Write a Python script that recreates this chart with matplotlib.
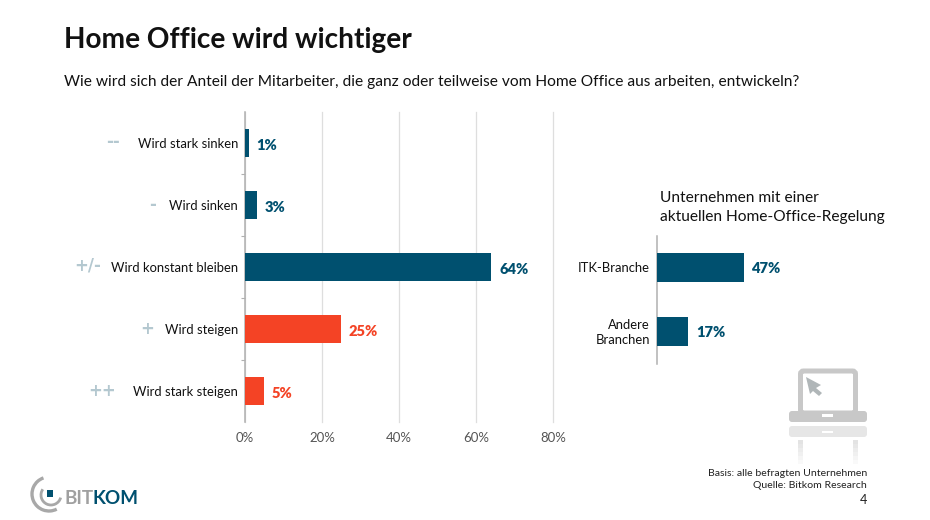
#!/usr/bin/env python3
import matplotlib
matplotlib.use('Agg')
import matplotlib.pyplot as plt
from matplotlib.patches import Arc, FancyBboxPatch, Rectangle, Polygon

plt.rcParams['font.family'] = ['Lato', 'DejaVu Sans']

W, H = 930, 520
BLUE = '#00506f'
RED = '#f44325'
GREY = '#c8c8c8'

answers = ['Wird stark sinken', 'Wird sinken', 'Wird konstant bleiben', 'Wird steigen', 'Wird stark steigen']
symbols = ['--', '-', '+/-', '+', '++']
shares = [1, 3, 64, 25, 5]
share_colors = [BLUE, BLUE, BLUE, RED, RED]
x_ticks = [0, 20, 40, 60, 80]

branches = ['ITK-Branche', 'Andere\nBranchen']
branch_shares = [47, 17]


def px_axes(left, top, right, bottom):
    return fig.add_axes([left / W, 1 - bottom / H, (right - left) / W, (bottom - top) / H])


fig = plt.figure(figsize=(W / 100, H / 100), dpi=100)

# overlay in pixel coords for header, footer, logo and icon
bg = fig.add_axes([0, 0, 1, 1])
bg.set_xlim(0, W)
bg.set_ylim(H, 0)
bg.axis('off')

bg.text(64, 40, 'Home Office wird wichtiger', fontsize=20.2, fontweight='bold', va='center', color='#111111')
bg.text(64, 82, 'Wie wird sich der Anteil der Mitarbeiter, die ganz oder teilweise vom Home Office aus arbeiten, entwickeln?',
        fontsize=11.13, va='center', color='#111111')
bg.text(660, 198, 'Unternehmen mit einer', fontsize=11.15, va='center', color='#111111')
bg.text(660, 217, 'aktuellen Home-Office-Regelung', fontsize=11.15, va='center', color='#111111')

bg.text(867, 474, 'Basis: alle befragten Unternehmen', fontsize=7.55, ha='right', va='center', color='#222222')
bg.text(867, 486, 'Quelle: Bitkom Research', fontsize=7.55, ha='right', va='center', color='#222222')
bg.text(867, 500, '4', fontsize=9, ha='right', va='center', color='#222222')

# laptop icon
bg.add_patch(FancyBboxPatch((800.5, 371), 55, 42, boxstyle='round,pad=0,rounding_size=3', fc='none', ec=GREY, lw=3.6))
bg.add_patch(Polygon([(806, 377), (821, 385), (816, 388), (822, 393), (819, 396), (813, 391), (810, 394)], fc='#b0b6b8', ec='none'))
bg.add_patch(FancyBboxPatch((789, 411), 78, 11, boxstyle='round,pad=0,rounding_size=3', fc=GREY, ec='none'))
bg.add_patch(Rectangle((822, 414), 11, 2.5, fc='white', ec='none'))
bg.add_patch(FancyBboxPatch((789, 426), 78, 11, boxstyle='round,pad=0,rounding_size=3', fc='#e6e6e6', ec='none'))
bg.add_patch(Rectangle((822, 431), 11, 2, fc='white', ec='none'))
# fading reflection of the screen
for k in range(6):
    fade = 0.5 - k * 0.08
    bg.add_patch(Rectangle((798, 440 + k * 4), 5, 4, fc=GREY, ec='none', alpha=fade))
    bg.add_patch(Rectangle((853, 440 + k * 4), 5, 4, fc=GREY, ec='none', alpha=fade))

# logo
bg.add_patch(Arc((49, 494), 34, 34, theta1=63, theta2=251, color='#a8a8a8', lw=2.4))
bg.add_patch(Arc((51, 495), 20, 20, theta1=15, theta2=215, color='#a8a8a8', lw=2.0))
bg.add_patch(Rectangle((47, 490), 6, 6.5, fc=BLUE, ec='none'))
bg.text(64, 498, 'BIT', fontsize=13.6, color='#a0a0a0', va='center', fontweight='bold')
bg.text(92.5, 498, 'KOM', fontsize=13.6, color=BLUE, va='center', fontweight='bold')

# main chart
ax = px_axes(245, 112, 553, 422)
ax.patch.set_alpha(0)
ax.barh(range(len(shares)), shares, height=0.44, color=share_colors, zorder=3)
ax.set_xlim(0, 80)
ax.set_ylim(4.5, -0.5)
ax.set_xticks(x_ticks)
ax.set_xticklabels([f'{t}%' for t in x_ticks], fontsize=9.5, color='#555555')
ax.set_yticks([0.5, 1.5, 2.5, 3.5])
ax.set_yticklabels([])
ax.grid(axis='x', color='#dedede', lw=0.9, zorder=0)
for gl in ax.get_xgridlines():
    gl.set_clip_on(False)
for s in ['top', 'right', 'bottom']:
    ax.spines[s].set_visible(False)
ax.spines['left'].set_color('#b0b0b0')
ax.spines['left'].set_linewidth(1.1)
ax.tick_params(axis='y', length=3, left=True, direction='out', color='#b0b0b0')
ax.tick_params(axis='x', length=0, pad=7)
for i, v in enumerate(shares):
    ax.annotate(f'{v}%', (v + 2, i), xytext=(0, -2), textcoords='offset pixels', color=share_colors[i],
                fontsize=10.5, fontweight='heavy', va='center')
    ax.annotate(answers[i], (0, i), xytext=(-7, -1), textcoords='offset pixels', ha='right', va='center',
                fontsize=9.4, color='#111111', annotation_clip=False)

# symbols, right aligned by hand like the original
symbol_x = [120, 156, 101, 154, 116]
symbol_y = [142, 205, 266, 329, 391]
for s, sx, sy in zip(symbols, symbol_x, symbol_y):
    bg.text(sx, sy, s, fontsize=12, fontweight='bold', color='#b4c8d0', ha='right', va='center',
            family='DejaVu Sans')

# right chart
ax2 = px_axes(657, 235.5, 804, 363.5)
ax2.patch.set_alpha(0)
ax2.barh(range(len(branch_shares)), branch_shares, height=0.45, color=BLUE, zorder=3)
ax2.set_xlim(0, 147 / 1.85)
ax2.set_ylim(1.5, -0.5)
ax2.set_xticks([])
ax2.set_yticks([])
for s in ['top', 'right', 'bottom']:
    ax2.spines[s].set_visible(False)
ax2.spines['left'].set_color('#b0b0b0')
ax2.spines['left'].set_linewidth(1.1)
for i, v in enumerate(branch_shares):
    ax2.annotate(f'{v}%', (v + 4, i), xytext=(0, -1), textcoords='offset pixels', color=BLUE,
                 fontsize=10.5, fontweight='heavy', va='center')
    ax2.annotate(branches[i], (0, i), xytext=(-7, -1), textcoords='offset pixels', ha='right', va='center',
                 fontsize=9.4, color='#111111', annotation_clip=False, linespacing=1.25)

fig.savefig('out.png', dpi=100, facecolor='white')
